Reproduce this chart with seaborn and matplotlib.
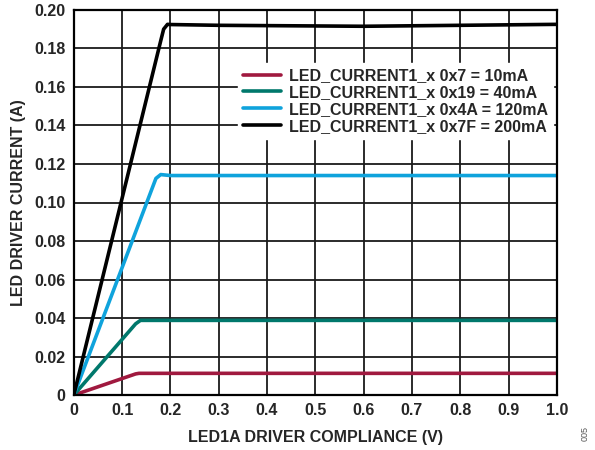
import pandas as pd
import matplotlib
matplotlib.use('Agg')
import matplotlib.pyplot as plt
import seaborn as sns

# Curves (V, A)
labels = ['LED_CURRENT1_x 0x7 = 10mA', 'LED_CURRENT1_x 0x19 = 40mA',
          'LED_CURRENT1_x 0x4A = 120mA', 'LED_CURRENT1_x 0x7F = 200mA']
colors = ['#A0193F', '#00786C', '#0FA3DC', '#000000']

v_10 = [0.0, 0.128, 0.135, 0.3, 0.6, 1.0]
i_10 = [0.0, 0.0110, 0.0113, 0.0113, 0.0113, 0.0113]
v_40 = [0.0, 0.128, 0.138, 0.3, 0.6, 1.0]
i_40 = [0.0, 0.0370, 0.0388, 0.0388, 0.0388, 0.0388]
v_120 = [0.0, 0.170, 0.180, 0.2, 0.5, 1.0]
i_120 = [0.0, 0.1125, 0.1145, 0.1140, 0.1140, 0.1140]
v_200 = [0.0, 0.180, 0.186, 0.194, 0.2, 0.3, 0.6, 1.0]
i_200 = [0.0, 0.1840, 0.1900, 0.1925, 0.1924, 0.1920, 0.1915, 0.1925]

frames = []
for lab, v, i in zip(labels, [v_10, v_40, v_120, v_200], [i_10, i_40, i_120, i_200]):
    frames.append(pd.DataFrame({'V': v, 'I': i, 'setting': lab}))
df = pd.concat(frames, ignore_index=True)

sns.set_style('white')
plt.rcParams['font.family'] = ['Liberation Sans', 'DejaVu Sans']
plt.rcParams['font.weight'] = 'bold'

fig = plt.figure(figsize=(5.95, 4.5), dpi=100)
ax = fig.add_axes([0.124, 0.122, 0.812, 0.856])

sns.lineplot(data=df, x='V', y='I', hue='setting', hue_order=labels,
             palette=colors, linewidth=2.6, ax=ax, sort=False, estimator=None)

ax.set_xlim(0, 1.0)
ax.set_ylim(0, 0.20)
ax.set_xticks([i / 10 for i in range(11)])
ax.set_xticklabels(['0', '0.1', '0.2', '0.3', '0.4', '0.5', '0.6', '0.7', '0.8', '0.9', '1.0'])
ax.set_yticks([i * 0.02 for i in range(11)])
ax.set_yticklabels(['0'] + ['%.2f' % (i * 0.02) for i in range(1, 11)])
ax.grid(True, color='#1a1a1a', linewidth=1.3)
ax.set_axisbelow(True)
for s in ax.spines.values():
    s.set_color('black')
    s.set_linewidth(1.6)
ax.tick_params(axis='both', labelsize=11.5, length=0, pad=6)
for t in ax.get_xticklabels() + ax.get_yticklabels():
    t.set_fontweight('bold')

ax.set_xlabel('LED1A DRIVER COMPLIANCE (V)', fontsize=11.5, fontweight='bold', labelpad=8)
ax.set_ylabel('LED DRIVER CURRENT (A)', fontsize=11.5, fontweight='bold', labelpad=6)

leg = ax.legend(loc='upper right', bbox_to_anchor=(1.008, 0.882), frameon=True,
                fancybox=False, framealpha=1, edgecolor='white',
                prop={'size': 11.5, 'weight': 'bold'}, handlelength=2.4,
                handletextpad=0.5, labelspacing=0.12, borderpad=0.3)
leg.set_title(None)

fig.text(0.983, 0.02, '005', rotation=90, fontsize=6.5, color='#555555',
         fontweight='normal', ha='center', va='bottom')

fig.savefig('out.png', dpi=100)
